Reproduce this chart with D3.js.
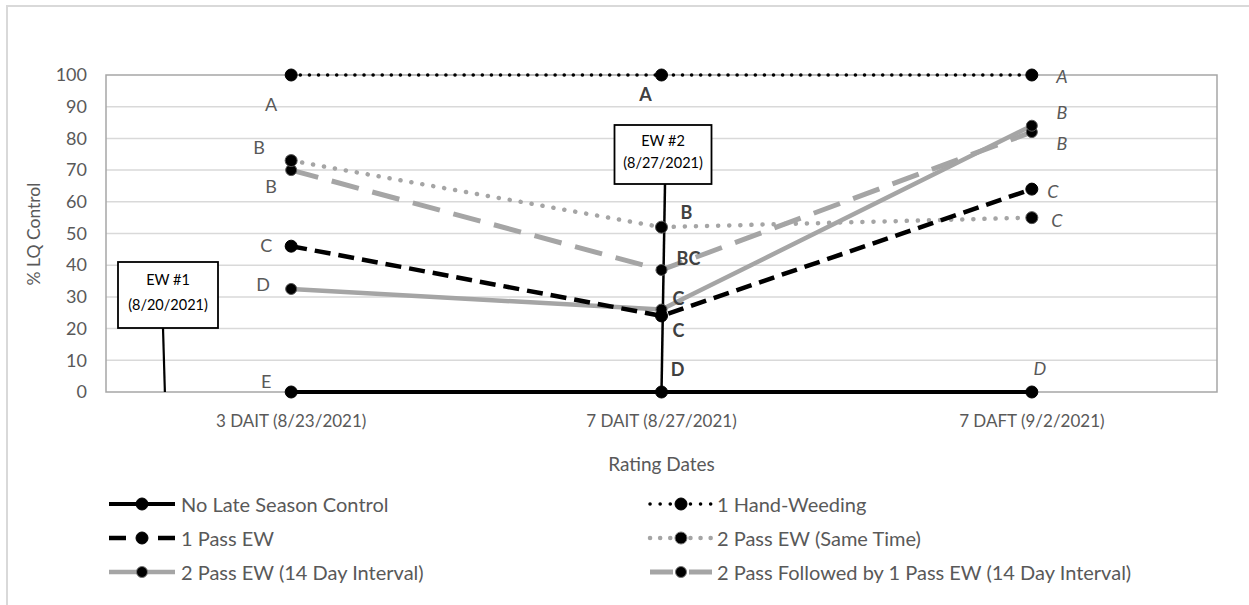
<!DOCTYPE html>
<html><head><meta charset="utf-8">
<script src="https://cdn.jsdelivr.net/npm/d3@7"></script>
<style>body{margin:0;background:#fff}svg{display:block}</style>
</head><body>
<script>
// ---------- data ----------
const categories = ["3 DAIT (8/23/2021)", "7 DAIT (8/27/2021)", "7 DAFT (9/2/2021)"];
const yTicks = [0,10,20,30,40,50,60,70,80,90,100];
const seriesNames = ["No Late Season Control","1 Hand-Weeding","1 Pass EW","2 Pass EW (Same Time)","2 Pass EW (14 Day Interval)","2 Pass Followed by 1 Pass EW (14 Day Interval)"];
const noControl   = [0, 0, 0];
const handWeeding = [100, 100, 100];
const onePass     = [46, 24, 64];
const twoPassSame = [73, 52, 55];
const twoPass14   = [32.5, 26, 84];
const twoPassFollowed = [70, 38.5, 82];
// mean-separation letters per series, per rating date
const lettersNoControl = ["E","D","D"];
const lettersHand      = ["A","A","A"];
const lettersOnePass   = ["C","C","C"];
const lettersSame      = ["B","B","C"];
const letters14        = ["D","C","B"];
const lettersFollowed  = ["B","BC","B"];
const annotations = [{title:"EW #1", date:"(8/20/2021)"},{title:"EW #2", date:"(8/27/2021)"}];

// ---------- styles / layout ----------
const W=1249,H=605;
const plot={l:106,t:75,r:1217,b:392};
const FONT="Lato, 'Open Sans', sans-serif";
const GRAY="#a5a5a5", TXT="#595959";
const series=[
 {name:seriesNames[0],values:noControl,letters:lettersNoControl,color:"#000",w:4,dash:null,legDash:null,cap:"butt",r:6},
 {name:seriesNames[1],values:handWeeding,letters:lettersHand,color:"#000",w:3.5,dash:"0.1 9",legDash:"0.1 10",cap:"round",r:6},
 {name:seriesNames[2],values:onePass,letters:lettersOnePass,color:"#000",w:4.5,dash:"16 8",legDash:"17 32 17",cap:"butt",r:6},
 {name:seriesNames[3],values:twoPassSame,letters:lettersSame,color:GRAY,w:4.5,dash:"0.1 11",legDash:"0.1 10",cap:"round",r:6},
 {name:seriesNames[4],values:twoPass14,letters:letters14,color:GRAY,w:4.5,dash:null,legDash:null,cap:"butt",r:5.5},
 {name:seriesNames[5],values:twoPassFollowed,letters:lettersFollowed,color:GRAY,w:5,dash:"28 14",legDash:"23 16 23",cap:"butt",r:5.5}
];
// letter label offsets [dx,dy] (pixels) per series per date
const letterOffsets=[
 [[-25,-11],[16,-23],[8,-24]],
 [[-20,29],[-16,19],[30,1]],
 [[-25,-1],[17,14],[21,2]],
 [[-32,-14],[25,-15],[25,2]],
 [[-28,-5],[17,-12],[30,-14]],
 [[-20,16],[27,-12],[30,11]]
];
const dateStyle=[{weight:"normal",style:"normal",fill:TXT},{weight:"bold",style:"normal",fill:"#404040"},{weight:"normal",style:"italic",fill:TXT}];

const svg=d3.select("body").append("svg").attr("width",W).attr("height",H);
svg.append("rect").attr("x",7).attr("y",6).attr("width",1300).attr("height",700).attr("fill","#fff").attr("stroke","#d9d9d9").attr("stroke-width",2);

const x=d3.scaleBand().domain(categories).range([plot.l,plot.r]);
const xc=c=>x(c)+x.bandwidth()/2;
const y=d3.scaleLinear().domain([0,100]).range([plot.b,plot.t]);

// gridlines
svg.append("g").selectAll("line").data(yTicks.slice(1,-1)).join("line")
 .attr("x1",plot.l).attr("x2",plot.r).attr("y1",d=>y(d)).attr("y2",d=>y(d))
 .attr("stroke","#d9d9d9").attr("stroke-width",1.5);
// plot border
svg.append("rect").attr("x",plot.l).attr("y",plot.t).attr("width",plot.r-plot.l).attr("height",plot.b-plot.t)
 .attr("fill","none").attr("stroke","#a6a6a6").attr("stroke-width",1.5);

// y axis
const ya=svg.append("g").attr("transform",`translate(${plot.l},0)`).call(d3.axisLeft(y).tickValues(yTicks).tickSize(0).tickPadding(19));
ya.select(".domain").remove();
ya.selectAll("text").attr("font-family",FONT).attr("font-size",18).attr("fill",TXT);
// x axis labels
const xa=svg.append("g").attr("transform",`translate(0,${plot.b})`).call(d3.axisBottom(x).tickSize(0).tickPadding(23));
xa.select(".domain").remove();
xa.selectAll("text").attr("font-family",FONT).attr("font-size",17).attr("fill",TXT);

svg.append("text").attr("transform","translate(40,234) rotate(-90)").attr("text-anchor","middle")
 .attr("font-family",FONT).attr("font-size",17.5).attr("fill",TXT).text("% LQ Control");
svg.append("text").attr("x",(plot.l+plot.r)/2).attr("y",471).attr("text-anchor","middle")
 .attr("font-family",FONT).attr("font-size",19).attr("fill",TXT).text("Rating Dates");

// series lines
const line=d3.line().x((d,i)=>xc(categories[i])).y(d=>y(d));
const drawOrder=[5,4,3,2,1,0];
drawOrder.forEach(si=>{
 const s=series[si];
 svg.append("path").datum(s.values).attr("d",line).attr("fill","none")
  .attr("stroke",s.color).attr("stroke-width",s.w).attr("stroke-dasharray",s.dash).attr("stroke-linecap",s.cap);
});

// annotation callouts (EW #1 before first rating, EW #2 at second rating)
const bw=x.bandwidth();
const ann=[
 {box:[plot.l+12,262,100,66], tip:[plot.l+bw*0.159,plot.b], base:[plot.l+57,328]},
 {box:[xc(categories[1])-47,125,97,59], tip:[xc(categories[1]),plot.b], base:[xc(categories[1])+3.5,184]}
];
ann.forEach((a,i)=>{
 svg.append("line").attr("x1",a.base[0]).attr("y1",a.base[1]).attr("x2",a.tip[0]).attr("y2",a.tip[1])
  .attr("stroke","#000").attr("stroke-width",i?2.5:2.2);
});

// markers
drawOrder.forEach(si=>{
 const s=series[si];
 svg.append("g").selectAll("circle").data(s.values).join("circle")
  .attr("cx",(d,i)=>xc(categories[i])).attr("cy",d=>y(d)).attr("r",s.r)
  .attr("fill","#000").attr("stroke",s.color==="#000"?"#000":"#555").attr("stroke-width",1);
});

ann.forEach((a,i)=>{
 const g=svg.append("g");
 g.append("rect").attr("x",a.box[0]).attr("y",a.box[1]).attr("width",a.box[2]).attr("height",a.box[3])
  .attr("fill","#fff").attr("stroke","#000").attr("stroke-width",1.8);
 const cx=a.box[0]+a.box[2]/2;
 g.append("text").attr("x",cx).attr("y",a.box[1]+a.box[3]*0.27).attr("text-anchor","middle").attr("dominant-baseline","central").attr("font-family",FONT).attr("font-size",14.5).attr("fill","#000").text(annotations[i].title);
 g.append("text").attr("x",cx).attr("y",a.box[1]+a.box[3]*0.64).attr("text-anchor","middle").attr("dominant-baseline","central").attr("font-family",FONT).attr("font-size",14.5).attr("fill","#000").text(annotations[i].date);
});

// letters
series.forEach((s,si)=>{
 s.letters.forEach((L,di)=>{
  const o=letterOffsets[si][di], st=dateStyle[di];
  svg.append("text").attr("x",xc(categories[di])+o[0]).attr("y",y(s.values[di])+o[1])
   .attr("text-anchor","middle").attr("dominant-baseline","central")
   .attr("font-family",FONT).attr("font-size",18).attr("font-weight",st.weight).attr("font-style",st.style)
   .attr("fill",st.fill).text(L);
 });
});

// legend
const legCols=[{x0:109,x1:175,tx:181},{x0:650,x1:712,tx:717}];
const legRows=[504,538,572];
series.forEach((s,i)=>{
 const c=legCols[i%2], ry=legRows[Math.floor(i/2)];
 const g=svg.append("g");
 g.append("line").attr("x1",c.x0).attr("x2",c.x1).attr("y1",ry).attr("y2",ry)
  .attr("stroke",s.color).attr("stroke-width",s.w).attr("stroke-linecap",s.cap)
  .attr("stroke-dasharray",s.legDash);
 g.append("circle").attr("cx",(c.x0+c.x1)/2).attr("cy",ry).attr("r",s.r).attr("fill","#000")
  .attr("stroke",s.color==="#000"?"#000":"#777").attr("stroke-width",1);
 g.append("text").attr("x",c.tx).attr("y",ry).attr("dominant-baseline","central")
  .attr("font-family",FONT).attr("font-size",20).attr("fill",TXT).text(s.name);
});
</script>
</body></html>
